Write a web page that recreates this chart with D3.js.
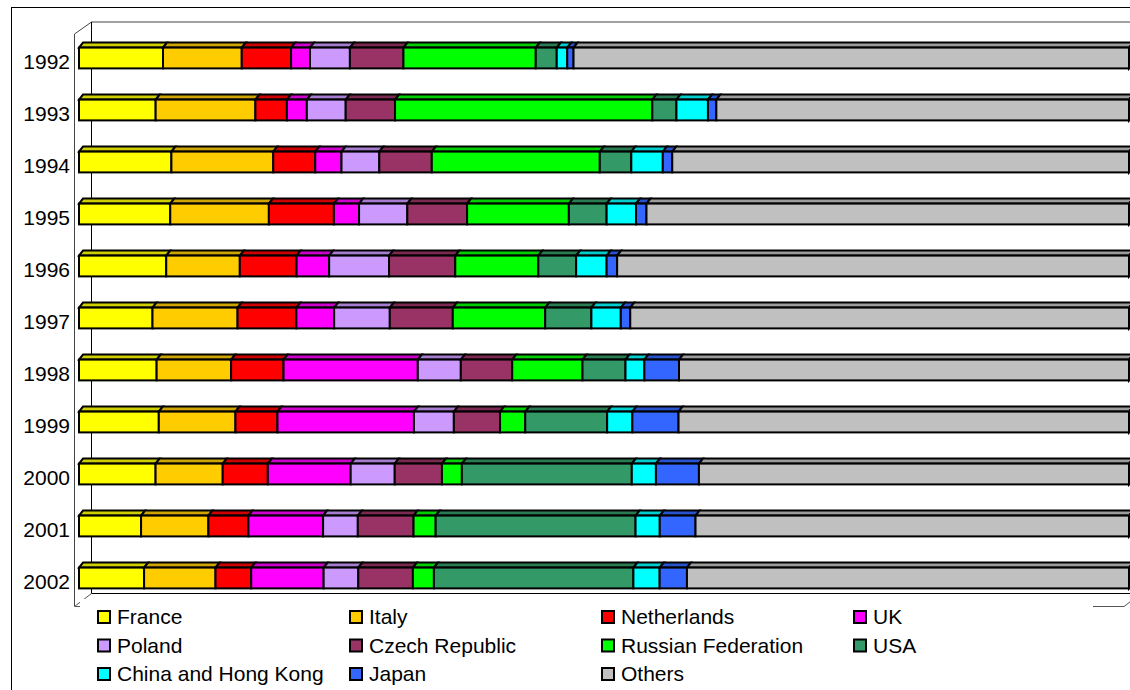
<!DOCTYPE html>
<html>
<head>
<meta charset="utf-8">
<script src="https://cdn.jsdelivr.net/npm/d3@7"></script>
<style>
  body { margin: 0; background: #fff; }
  svg text { font-family: "Liberation Sans", Arial, sans-serif; }
</style>
</head>
<body>
<div id="chart"></div>
<script>
// Years (categories) and series (share of total, %)
const years = ["1992","1993","1994","1995","1996","1997","1998","1999","2000","2001","2002"];
const countries = ["France","Italy","Netherlands","UK","Poland","Czech Republic",
  "Russian Federation","USA","China and Hong Kong","Japan","Others"];
const colors = ["#FFFF00","#FFCC00","#FF0000","#FF00FF","#CC99FF","#993366",
  "#00FF00","#339966","#00FFFF","#3366FF","#C0C0C0"];

const france      = [8.0, 7.3, 8.8, 8.7, 8.3, 7.0, 7.4, 7.6, 7.3, 5.9, 6.2];
const italy       = [7.5, 9.5, 9.7, 9.4, 7.0, 8.1, 7.1, 7.3, 6.4, 6.4, 6.8];
const netherlands = [4.7, 3.0, 4.0, 6.2, 5.4, 5.6, 5.0, 4.0, 4.3, 3.8, 3.4];
const uk          = [1.8, 1.9, 2.5, 2.4, 3.1, 3.6, 12.8, 13.0, 7.9, 7.1, 6.9];
const poland      = [3.8, 3.7, 3.6, 4.6, 5.7, 5.3, 4.1, 3.8, 4.2, 3.3, 3.3];
const czech       = [5.1, 4.7, 5.0, 5.7, 6.3, 6.0, 4.9, 4.4, 4.5, 5.3, 5.2];
const russia      = [12.6, 24.5, 16.0, 9.7, 7.9, 8.8, 6.7, 2.4, 1.9, 2.1, 2.0];
const usa         = [2.0, 2.3, 3.0, 3.6, 3.6, 4.4, 4.1, 7.8, 16.2, 19.0, 19.0];
const china       = [1.0, 3.0, 3.0, 2.8, 2.9, 2.8, 1.8, 2.4, 2.3, 2.3, 2.5];
const japan       = [0.6, 0.8, 0.9, 1.0, 1.0, 0.9, 3.3, 4.4, 4.1, 3.4, 2.6];
const others      = [52.9, 39.3, 43.5, 46.0, 48.7, 47.5, 42.9, 42.9, 41.0, 41.2, 42.1];

const series = [france, italy, netherlands, uk, poland, czech, russia, usa, china, japan, others];

// table for d3.stack
const rows = years.map((yr, i) => {
  const r = { year: yr };
  countries.forEach((c, k) => r[c] = series[k][i]);
  return r;
});

const width = 1130, height = 690;
const depthX = 4, depthY = 5;   // 3D offset of bars

const svg = d3.select("#chart").append("svg")
  .attr("width", width)
  .attr("height", height);

// outer chart frame
svg.append("rect")
  .attr("x", 11.5).attr("y", 7.5)
  .attr("width", 1300).attr("height", 900)
  .attr("fill", "#fff").attr("stroke", "#000").attr("stroke-width", 1);

// walls and floor of the 3D plot area
const walls = svg.append("g").attr("fill", "none").attr("stroke-width", 1);
walls.append("path")
  .attr("d", "M74.5,606 L74.5,34 L91.5,22 L1145,22")
  .attr("stroke", "#444");
walls.append("path")
  .attr("d", "M91.5,22 L91.5,593.5 L1145,593.5")
  .attr("stroke", "#000");
walls.append("path")
  .attr("d", "M74.5,606.5 L91.5,593.5 M74.5,606.5 L1124,606.5 L1141,593.5")
  .attr("stroke", "#555");

// scales
const x = d3.scaleLinear().domain([0, 1]).range([79, 1129]);
const y = d3.scaleBand().domain(years).range([32, 604])
  .paddingInner(0.6).paddingOuter(0.3);

const stack = d3.stack().keys(countries).offset(d3.stackOffsetExpand);
const stacked = stack(rows);

const bars = svg.append("g")
  .attr("stroke", "#000")
  .attr("stroke-width", 2)
  .attr("stroke-linejoin", "miter");

stacked.forEach((s, k) => {
  const col = colors[k];
  const top = d3.color(col).darker(0.6);
  s.forEach(d => {
    const x0 = x(d[0]), x1 = x(d[1]);
    const y0 = y(d.data.year), y1 = y0 + y.bandwidth();
    bars.append("path")
      .attr("fill", top)
      .attr("d", `M${x0},${y0} L${x0 + depthX},${y0 - depthY} L${x1 + depthX},${y0 - depthY} L${x1},${y0} Z`);
    if (k === countries.length - 1) {
      bars.append("path")
        .attr("fill", d3.color(col).darker(1))
        .attr("d", `M${x1},${y0} L${x1 + depthX},${y0 - depthY} L${x1 + depthX},${y1 - depthY} L${x1},${y1} Z`);
    }
    bars.append("rect")
      .attr("x", x0).attr("y", y0)
      .attr("width", x1 - x0).attr("height", y.bandwidth())
      .attr("fill", col);
  });
});

// year labels
const yAxis = svg.append("g")
  .attr("transform", "translate(70,0)")
  .call(d3.axisLeft(y).tickSize(0).tickPadding(0));
yAxis.select(".domain").remove();
yAxis.selectAll("text")
  .attr("dy", "0.5em")
  .attr("fill", "#000")
  .style("font-size", "21px")
  .style("font-family", "'Liberation Sans', Arial, sans-serif");

// legend
const legend = svg.append("g");
legend.append("rect")
  .attr("x", 80).attr("y", 599)
  .attr("width", 1013).attr("height", 100)
  .attr("fill", "#fff");

const colX = [97, 349, 601, 853];
const rowY = [624, 652.5, 681];
countries.forEach((c, i) => {
  const cx = colX[i % 4], cy = rowY[Math.floor(i / 4)];
  legend.append("rect")
    .attr("x", cx + 1).attr("y", cy - 13)
    .attr("width", 12).attr("height", 12)
    .attr("fill", colors[i])
    .attr("stroke", "#000").attr("stroke-width", 2);
  legend.append("text")
    .attr("x", cx + 20).attr("y", cy)
    .style("font-size", "21px")
    .text(c);
});
</script>
</body>
</html>
